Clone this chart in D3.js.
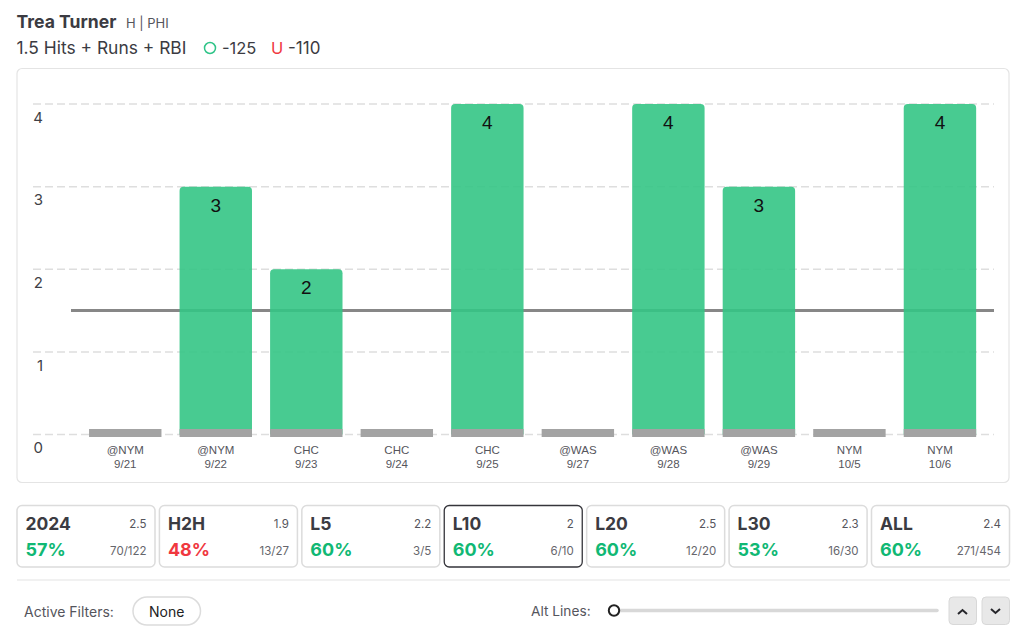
<!DOCTYPE html>
<html>
<head>
<meta charset="utf-8">
<script src="https://cdn.jsdelivr.net/npm/d3@7"></script>
<style>
  html, body { margin: 0; padding: 0; background: #fff; }
  svg { display: block; font-family: Inter, "Noto Sans", sans-serif; }
</style>
</head>
<body>
<div id="chart"></div>
<script>
// Game log
const opponents = ["@NYM", "@NYM", "CHC", "CHC", "CHC", "@WAS", "@WAS", "@WAS", "NYM", "NYM"];
const dates = ["9/21", "9/22", "9/23", "9/24", "9/25", "9/27", "9/28", "9/29", "10/5", "10/6"];
const values = [0, 3, 2, 0, 4, 0, 4, 3, 0, 4];
const yTicks = [0, 1, 2, 3, 4];
const propLine = 1.5;

// Split cards under the chart
const splitNames = ["2024", "H2H", "L5", "L10", "L20", "L30", "ALL"];
const splitAvgs = ["2.5", "1.9", "2.2", "2", "2.5", "2.3", "2.4"];
const splitPcts = [57, 48, 60, 60, 60, 53, 60];
const splitCounts = ["70/122", "13/27", "3/5", "6/10", "12/20", "16/30", "271/454"];
const activeSplit = "L10";

const width = 1024;
const height = 633;
const green = "#10b874";
const red = "#f0383f";
const dark = "#3b3b42";
const border = "#dcdcdc";

const svg = d3.select("#chart").append("svg")
    .attr("width", width)
    .attr("height", height);

// Header
svg.append("text").attr("x", 16.5).attr("y", 27.5)
    .attr("font-size", 17.6).attr("font-weight", 700).attr("fill", dark)
    .text("Trea Turner");
svg.append("text").attr("x", 126).attr("y", 27.5)
    .attr("font-size", 13).attr("fill", "#55555c")
    .text("H | PHI");
svg.append("text").attr("x", 16.5).attr("y", 54)
    .attr("font-size", 17.4).attr("fill", dark)
    .text("1.5 Hits + Runs + RBI");
svg.append("circle").attr("cx", 210).attr("cy", 48).attr("r", 5.5)
    .attr("fill", "none").attr("stroke", "#2fc488").attr("stroke-width", 1.5);
svg.append("text").attr("x", 222).attr("y", 54)
    .attr("font-size", 16.5).attr("fill", dark).text("-125");
svg.append("text").attr("x", 271).attr("y", 54)
    .attr("font-size", 16.5).attr("fill", red).text("U");
svg.append("text").attr("x", 288).attr("y", 54)
    .attr("font-size", 17).attr("fill", dark).text("-110");

// Chart frame
svg.append("rect")
    .attr("x", 17).attr("y", 68.5).attr("width", 992).attr("height", 414).attr("rx", 5)
    .attr("fill", "#fff").attr("stroke", "#e4e4e4").attr("stroke-width", 1.2);

const x = d3.scaleBand()
    .domain(d3.range(values.length))
    .range([80, 985.2])
    .paddingInner(0.2)
    .paddingOuter(0.1);

const y = d3.scaleLinear()
    .domain([0, 4])
    .range([434.5, 104]);

// Dashed grid
svg.append("g").selectAll("line")
    .data(yTicks)
    .join("line")
    .attr("x1", 33).attr("x2", 994)
    .attr("y1", d => y(d)).attr("y2", d => y(d))
    .attr("stroke", "#dedede").attr("stroke-width", 1.5)
    .attr("stroke-dasharray", "8 4");

// Y axis labels sit below their grid line
const yAxis = svg.append("g")
    .attr("transform", "translate(43,13.5)")
    .call(d3.axisLeft(y).tickValues(yTicks).tickSize(0).tickPadding(0).tickFormat(d3.format("d")));
yAxis.select(".domain").remove();
yAxis.selectAll("text")
    .attr("font-family", "Inter, sans-serif")
    .attr("font-size", 15).attr("fill", "#3f3f46");

// Prop line, drawn under the bars so it tints through
svg.append("line")
    .attr("x1", 71).attr("x2", 994)
    .attr("y1", y(propLine)).attr("y2", y(propLine))
    .attr("stroke", "#878787").attr("stroke-width", 3);

// Bars
svg.append("g").selectAll("path")
    .data(values.map((v, i) => ({ v, i })).filter(d => d.v > 0))
    .join("path")
    .attr("d", d => {
        const x0 = x(d.i), x1 = x0 + x.bandwidth(), top = y(d.v), bot = y(0), r = 4;
        return `M${x0},${bot}V${top + r}Q${x0},${top} ${x0 + r},${top}H${x1 - r}Q${x1},${top} ${x1},${top + r}V${bot}Z`;
    })
    .attr("fill", "#34c585")
    .attr("fill-opacity", 0.9);

// Grey base stub under every game
svg.append("g").selectAll("rect")
    .data(values.map((v, i) => i))
    .join("rect")
    .attr("x", d => x(d))
    .attr("y", y(0) - 5.5)
    .attr("width", x.bandwidth())
    .attr("height", 8)
    .attr("fill", "#a3a3a3");

// Bar value labels
svg.append("g").selectAll("text")
    .data(values.map((v, i) => ({ v, i })).filter(d => d.v > 0))
    .join("text")
    .attr("x", d => x(d.i) + x.bandwidth() / 2)
    .attr("y", d => y(d.v) + 25)
    .attr("text-anchor", "middle")
    .attr("font-family", "Liberation Sans, Arial, sans-serif")
    .attr("font-size", 19)
    .attr("fill", "#111")
    .text(d => d.v);

// X axis: opponent over date
const xAxis = svg.append("g")
    .attr("transform", "translate(0,445)")
    .call(d3.axisBottom(x).tickSize(0).tickPadding(0).tickFormat(() => ""));
xAxis.select(".domain").remove();
xAxis.selectAll("text").each(function (i) {
    const t = d3.select(this)
        .attr("dy", null).attr("y", null)
        .attr("font-family", "Liberation Sans, Arial, sans-serif")
        .attr("font-size", 11.5).attr("fill", "#55555c");
    t.append("tspan").attr("x", 0).attr("y", 9).text(opponents[i]);
    t.append("tspan").attr("x", 0).attr("y", 23).text(dates[i]);
});

// Split cards
const cardX = d3.scalePoint().domain(splitNames).range([17, 871.5]);
const cardW = 138;
const cards = svg.append("g").selectAll("g")
    .data(splitNames)
    .join("g")
    .attr("transform", d => `translate(${cardX(d)},505.5)`);

cards.append("rect")
    .attr("width", cardW).attr("height", 61.5).attr("rx", 5)
    .attr("fill", "#fff")
    .attr("stroke", d => d === activeSplit ? "#35353b" : border)
    .attr("stroke-width", d => d === activeSplit ? 1.3 : 1.5);
cards.append("text").attr("x", 8.5).attr("y", 24)
    .attr("font-size", 17.5).attr("font-weight", 700).attr("fill", dark)
    .text(d => d);
cards.append("text").attr("x", cardW - 8.5).attr("y", 22.5)
    .attr("text-anchor", "end").attr("font-size", 11.5).attr("fill", "#55555c")
    .text((d, i) => splitAvgs[i]);
cards.append("text").attr("x", 8.5).attr("y", 50.5)
    .attr("font-size", 18).attr("font-weight", 700)
    .attr("fill", (d, i) => splitPcts[i] >= 50 ? green : red)
    .text((d, i) => splitPcts[i] + "%");
cards.append("text").attr("x", cardW - 8.5).attr("y", 49)
    .attr("text-anchor", "end").attr("font-size", 11.5).attr("fill", "#66666c")
    .text((d, i) => splitCounts[i]);

// Divider
svg.append("line").attr("x1", 17).attr("x2", 1010).attr("y1", 580).attr("y2", 580)
    .attr("stroke", "#e4e4e4").attr("stroke-width", 1.2);

// Filters
svg.append("text").attr("x", 24).attr("y", 616.5)
    .attr("font-size", 14).attr("fill", "#55555c").text("Active Filters:");
svg.append("rect").attr("x", 133).attr("y", 597).attr("width", 67.5).attr("height", 28).attr("rx", 14)
    .attr("fill", "#fff").attr("stroke", border).attr("stroke-width", 1.5);
svg.append("text").attr("x", 166.7).attr("y", 616.5).attr("text-anchor", "middle")
    .attr("font-size", 14).attr("fill", "#222").text("None");

// Alt lines slider
svg.append("text").attr("x", 531).attr("y", 616)
    .attr("font-size", 13.7).attr("fill", "#55555c").text("Alt Lines:");
svg.append("line").attr("x1", 614).attr("x2", 937).attr("y1", 610.5).attr("y2", 610.5)
    .attr("stroke", "#d8d8d8").attr("stroke-width", 3.5).attr("stroke-linecap", "round");
svg.append("circle").attr("cx", 614).attr("cy", 610.5).attr("r", 5.2)
    .attr("fill", "#fff").attr("stroke", "#222").attr("stroke-width", 2);

// Up and down buttons
const buttonX = [949, 982];
const chevrons = ["M958,614l4.5,-4l4.5,4", "M991,609l4.5,4l4.5,-4"];
svg.append("g").selectAll("rect")
    .data(buttonX)
    .join("rect")
    .attr("x", d => d).attr("y", 597).attr("width", 27.5).attr("height", 27.5).attr("rx", 4)
    .attr("fill", "#e8e8e8").attr("stroke", "#d8d8d8");
svg.append("g").selectAll("path")
    .data(chevrons)
    .join("path")
    .attr("d", d => d)
    .attr("fill", "none").attr("stroke", "#26262b").attr("stroke-width", 2);
</script>
</body>
</html>
